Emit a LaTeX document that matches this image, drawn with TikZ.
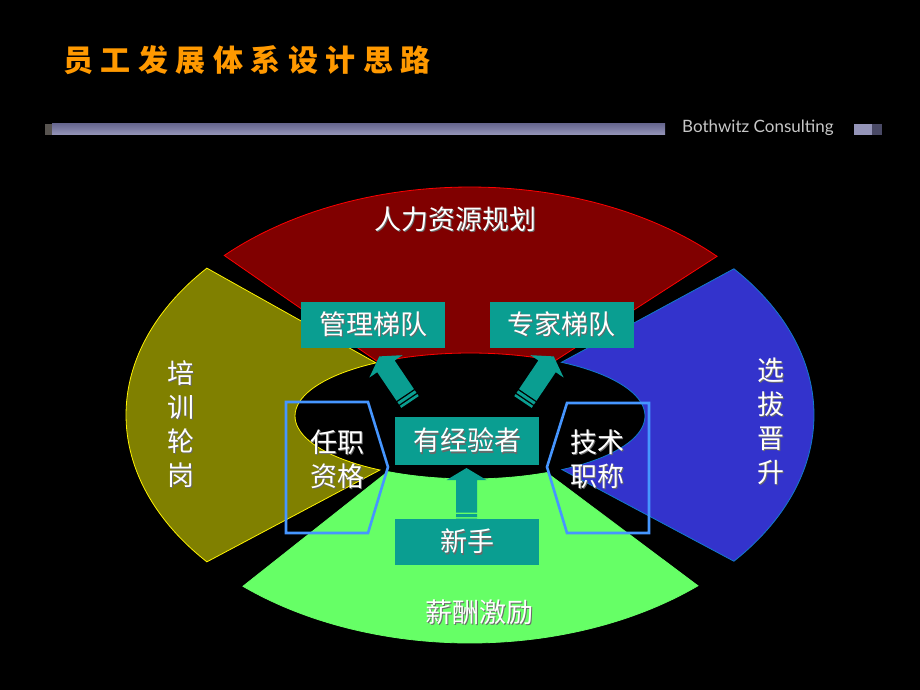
\documentclass[tikz,border=0pt]{standalone}
\usepackage{fontspec}
\newfontfamily\cjk{Noto Sans CJK SC}
\newfontfamily\cjktitle[LetterSpace=25]{Noto Sans CJK SC}
\newfontfamily\brandfont{Lato}

\definecolor{hrred}{RGB}{128,0,0}
\definecolor{trainolive}{RGB}{128,128,0}
\definecolor{promoblue}{RGB}{51,51,204}
\definecolor{paygreen}{RGB}{102,255,102}
\definecolor{boxteal}{RGB}{10,158,145}
\definecolor{frameblue}{RGB}{70,150,255}
\definecolor{titleorange}{RGB}{255,153,0}
\definecolor{bargray}{RGB}{148,148,184}
\definecolor{bartop}{RGB}{105,105,145}
\definecolor{barend}{RGB}{88,84,80}
\definecolor{shadowgray}{RGB}{105,105,105}

% white text with a grey drop shadow
\newcommand{\emb}[1]{\makebox[0pt][l]{\hspace{1.3pt}\raisebox{-1.3pt}{\color{shadowgray}#1}}#1}

% one block of the ring: style, outer from/to, inner from/to (ellipse angles)
\newcommand{\ringpart}[5]{%
  \draw[#1] plot[domain=#2:#3,samples=60] ({470+344*cos(\x)},{415-228*sin(\x)})
    -- plot[domain=#4:#5,samples=40] ({470+175*cos(\x)},{416-63*sin(\x)}) -- cycle;}

% striped block arrow: tail, direction, length
\newcommand{\stripedarrow}[3]{%
  \fill[boxteal,shift={#1},rotate=#2]
    (0,-10.5) rectangle (2.5,10.5)
    (4,-10.5) rectangle (7,10.5)
    (8.5,-10.5) -- ({#3-12},-10.5) -- ({#3-12},-20) -- (#3,0)
    -- ({#3-12},20) -- ({#3-12},10.5) -- (8.5,10.5) -- cycle;}

\tikzset{
  ringline/.style={line width=0.8pt},
  tealbox/.style={fill=boxteal, text=white, inner sep=0,
    minimum width=144, minimum height=46,
    font=\cjk\fontsize{27}{34}\selectfont},
  sectorlbl/.style={text=white, inner sep=0, align=center,
    font=\cjk\fontsize{27}{34}\selectfont},
  bracketline/.style={draw=frameblue, line width=2.6pt, line join=miter}
}

\begin{document}
\begin{tikzpicture}[x=1pt,y=-1pt]
  \fill[black] (0,0) rectangle (920,690);
  \useasboundingbox (0,0) rectangle (920,690);

  % header
  \node[anchor=west, inner sep=0, text=titleorange,
    font=\cjktitle\bfseries\fontsize{30}{30}\selectfont] (title) at (63,60) {员工发展体系设计思路};
  \fill[barend] (45,124) rectangle (52,134.5);
  \shade[top color=bartop, bottom color=bargray] (52,124) rectangle (665,134.5);
  \node[anchor=base west, inner sep=0, text=black!22,
    font=\brandfont\fontsize{17}{17}\selectfont] (brand) at (682,132.5) {Bothwitz Consulting};
  \fill[bargray] (854,124) rectangle (872,134.5);
  \fill[bartop!70!black] (872,124) rectangle (882,134.5);

  % the ring
  \ringpart{ringline, fill=hrred, draw=red}{44.1}{135.6}{121.5}{61}
  \ringpart{ringline, fill=trainolive, draw=yellow}{139.9}{220.1}{239}{122.5}
  \ringpart{ringline, fill=paygreen, draw=paygreen}{228.7}{311.5}{296}{242}
  \ringpart{ringline, fill=promoblue, draw=cyan!60!blue}{-39.9}{39.9}{58.5}{-58.3}

  % arrows
  \coordinate (tailmgmt) at (410,402);
  \coordinate (tailexpert) at (523,402);
  \coordinate (tailnovice) at (466.5,521);
  \stripedarrow{(tailmgmt)}{124}{55}
  \stripedarrow{(tailexpert)}{56}{55}
  \stripedarrow{(tailnovice)}{90}{53}

  % boxes
  \node[tealbox] (mgmt) at (373,325) {\emb{管理梯队}};
  \node[tealbox] (expert) at (561.5,325) {\emb{专家梯队}};
  \node[tealbox, minimum height=48] (senior) at (467,441) {\emb{有经验者}};
  \node[tealbox] (novice) at (467,542) {\emb{新手}};

  % brackets
  \draw[bracketline] (286,402) -- (368,402) -- (388,467) -- (368,533) -- (286,533) -- cycle;
  \draw[bracketline] (567,403) -- (649,403) -- (649,533) -- (567,533) -- (547,467) -- cycle;

  % labels
  \node[sectorlbl] (hrplan) at (455,220) {\emb{人力资源规划}};
  \node[sectorlbl] (pay) at (479,613) {\emb{薪酬激励}};
  \node[sectorlbl] (training) at (181,424.5) {\emb{培}\\\emb{训}\\\emb{轮}\\\emb{岗}};
  \node[sectorlbl] (promote) at (771,422) {\emb{选}\\\emb{拔}\\\emb{晋}\\\emb{升}};
  \node[sectorlbl] (qualify) at (337.5,460) {\emb{任职}\\\emb{资格}};
  \node[sectorlbl] (techtitle) at (597,460) {\emb{技术}\\\emb{职称}};
\end{tikzpicture}
\end{document}
